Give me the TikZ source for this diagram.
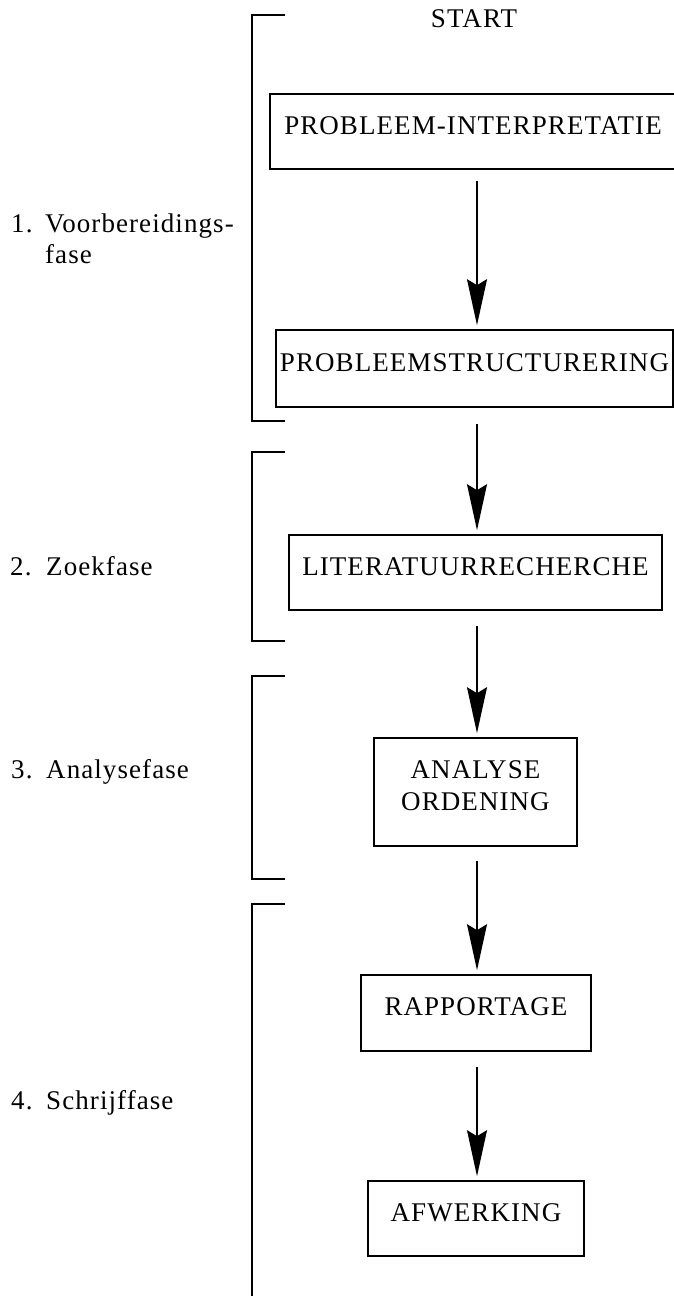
\documentclass[tikz,border=0pt]{standalone}
\usepackage{fontspec}
\setmainfont{Liberation Serif}[LetterSpace=4]
\usetikzlibrary{arrows.meta}

\begin{document}
\begin{tikzpicture}[
  x=1pt, y=-1pt,
  stepbox/.style={draw, line width=1.6pt, inner sep=0pt, align=center,
    font=\fontsize{27}{32}\selectfont,
    execute at end node={\rule[-12pt]{0pt}{12pt}}},
  flow/.style={line width=1.6pt, shorten <=15pt, shorten >=4pt,
    -{Stealth[length=46pt, width=20pt, inset=6pt]}},
  bracket/.style={line width=1.6pt},
  phase/.style={font=\fontsize{27}{31}\selectfont, align=left, inner sep=0pt, anchor=base west},
  plain/.style={font=\fontsize{27}{32}\selectfont, inner sep=0pt}
]
\useasboundingbox (0,0) rectangle (674,1296);

% vertical line on which all arrows run
\coordinate (ax) at (477,0);

% process boxes
\node[plain] (start) at (474,18.5) {START};
\node[stepbox, minimum width=406pt, minimum height=75pt] (b1) at (473,131.5) {PROBLEEM-INTERPRETATIE};
\node[stepbox, minimum width=397pt, minimum height=77pt] (b2) at (474.5,368.5) {PROBLEEMSTRUCTURERING};
\node[stepbox, minimum width=373pt, minimum height=75pt] (b3) at (475.5,572.5) {LITERATUURRECHERCHE};
\node[stepbox, minimum width=203pt, minimum height=108pt] (b4) at (475.5,792) {ANALYSE\\ORDENING};
\node[stepbox, minimum width=230pt, minimum height=76pt] (b5) at (476,1013) {RAPPORTAGE};
\node[stepbox, minimum width=216pt, minimum height=75pt] (b6) at (476,1218.5) {AFWERKING};

% arrows between the boxes
\draw[flow, shorten <=11pt] (b1.south -| ax) -- (b2.north -| ax);
\draw[flow, shorten <=16pt] (b2.south -| ax) -- (b3.north -| ax);
\draw[flow] (b3.south -| ax) -- (b4.north -| ax);
\draw[flow, shorten <=14pt] (b4.south -| ax) -- (b5.north -| ax);
\draw[flow] (b5.south -| ax) -- (b6.north -| ax);

% phase brackets
\draw[bracket] (285,15) -- (252,15) -- (252,421) -- (285,421);
\draw[bracket] (285,452) -- (252,452) -- (252,641) -- (285,641);
\draw[bracket] (285,676) -- (252,676) -- (252,879) -- (285,879);
\draw[bracket] (285,904) -- (252,904) -- (252,1300);

% phase labels (base anchor sits on the last line)
\node[phase] (p1) at (11,263) {\makebox[34pt][l]{1.}Voorbereidings-\\\hspace*{34pt}fase};
\node[phase] (p2) at (10,575) {\makebox[36pt][l]{2.}Zoekfase};
\node[phase] (p3) at (11,778) {\makebox[35pt][l]{3.}Analysefase};
\node[phase] (p4) at (11,1109) {\makebox[35pt][l]{4.}Schrijffase};
\end{tikzpicture}
\end{document}
